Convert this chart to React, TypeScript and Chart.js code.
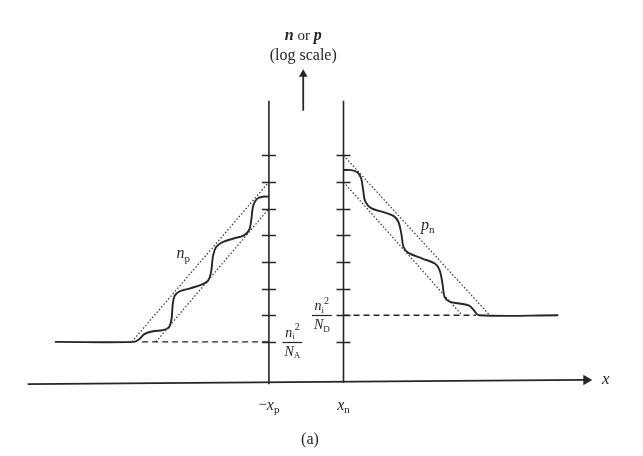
import React, { useEffect, useRef } from "react";
import { Chart, registerables } from "chart.js";
Chart.register(...registerables);

// Horizontal position: in units of x_p (depletion edges at -1 and +1)
// Vertical position: decades of n or p (log scale), level 0 = ni²/NA
const npX = [-6.74, -4.63, -4.47, -4.34, -4.11, -3.84, -3.68, -3.61, -3.58, -3.53, -3.39, -3.11, -2.79, -2.63, -2.55, -2.5, -2.42, -2.26, -1.95, -1.68, -1.53, -1.47, -1.42, -1.32, -1.16, -1.0];
const npY = [0, 0, 0.11, 0.29, 0.4, 0.44, 0.55, 0.88, 1.39, 1.72, 1.9, 2.01, 2.16, 2.3, 2.63, 3.22, 3.55, 3.73, 3.88, 3.99, 4.2, 4.61, 5.12, 5.37, 5.45, 5.45];
const pnX = [1.0, 1.21, 1.37, 1.47, 1.53, 1.58, 1.74, 2.08, 2.34, 2.47, 2.55, 2.61, 2.74, 3.13, 3.45, 3.58, 3.66, 3.71, 3.84, 4.11, 4.37, 4.5, 4.63, 6.76];
const pnY = [6.45, 6.45, 6.37, 6.15, 5.68, 5.28, 5.02, 4.87, 4.73, 4.51, 4.07, 3.56, 3.34, 3.12, 2.94, 2.68, 2.13, 1.69, 1.51, 1.44, 1.36, 1.18, 1.0, 1.0];

const tickLevels = [0, 1, 2, 3, 4, 5, 6, 7];
const edgeX = [-1, 1];
const edgeTop = 9.05;
const naLevel = 0;
const ndLevel = 1;

const xAxisX = [-7.47, 7.47];
const xAxisY = [-1.59, -1.43];
const yArrowX = [-0.08, -0.08];
const yArrowY = [8.68, 10.0];

const npDashX = [-4.4, -1];
const pnDashX = [1, 4.55];
const npUpperDotX = [-4.68, -1];
const npUpperDotY = [0, 6];
const npLowerDotX = [-4.03, -1];
const npLowerDotY = [0, 5];
const pnUpperDotX = [1, 4.92];
const pnUpperDotY = [7, 1];
const pnLowerDotX = [1, 4.18];
const pnLowerDotY = [6, 1];

// label anchors (same units)
const labelNames = ["title1", "title2", "np", "pn", "fracA", "fracD", "xp", "xn", "caption", "xlab"];
const labelX = [-0.08, -0.08, -3.3, 3.26, -0.37, 0.42, -1.0, 1.0, 0.1, 8.03];
const labelY = [11.5, 10.73, 3.31, 4.37, 0, 1, -2.39, -2.39, -3.67, -1.41];

const X_MIN = -8.05, X_MAX = 8.87, Y_MIN = -4.06, Y_MAX = 12.61;

const INK = "#262626";
const SERIF = "'Liberation Serif', 'DejaVu Serif', serif";

const pts = (xs: number[], ys: number[]) => xs.map((x, i) => ({ x, y: ys[i] }));
const line = (xs: number[], ys: number[], extra: any = {}) => ({
  data: pts(xs, ys),
  showLine: true,
  pointRadius: 0,
  borderColor: INK,
  backgroundColor: INK,
  borderWidth: 1.6,
  tension: 0,
  ...extra,
});

type Piece = { t: string; f: string; dy?: number };
function rich(ctx: CanvasRenderingContext2D, cx: number, cy: number, pieces: Piece[]) {
  const widths = pieces.map((p) => {
    ctx.font = p.f;
    return ctx.measureText(p.t).width;
  });
  const total = widths.reduce((a, b) => a + b, 0);
  let x = cx - total / 2;
  pieces.forEach((p, i) => {
    ctx.font = p.f;
    ctx.fillText(p.t, x, cy + (p.dy || 0));
    x += widths[i];
  });
  return total;
}

const it = (s: number) => `italic ${s}px ${SERIF}`;
const bi = (s: number) => `bold italic ${s}px ${SERIF}`;
const rm = (s: number) => `${s}px ${SERIF}`;

const decorPlugin = {
  id: "decor",
  afterDatasetsDraw(chart: any) {
    const ctx: CanvasRenderingContext2D = chart.ctx;
    const xs = chart.scales.x;
    const ys = chart.scales.y;
    ctx.save();
    ctx.strokeStyle = INK;
    ctx.lineWidth = 1.5;
    edgeX.forEach((ex) => {
      const px = xs.getPixelForValue(ex);
      tickLevels.forEach((lv) => {
        const py = Math.round(ys.getPixelForValue(lv)) + 0.5;
        ctx.beginPath();
        ctx.moveTo(px - 7, py);
        ctx.lineTo(px + 7, py);
        ctx.stroke();
      });
    });

    ctx.fillStyle = INK;
    ctx.textBaseline = "middle";
    const P = (name: string) => {
      const i = labelNames.indexOf(name);
      return [xs.getPixelForValue(labelX[i]), ys.getPixelForValue(labelY[i])];
    };
    let [x, y] = P("title1");
    rich(ctx, x, y, [
      { t: "n", f: bi(16) },
      { t: " or ", f: rm(15) },
      { t: "p", f: bi(16) },
    ]);
    [x, y] = P("title2");
    rich(ctx, x, y, [{ t: "(log scale)", f: rm(16) }]);
    [x, y] = P("np");
    rich(ctx, x, y, [
      { t: "n", f: it(16) },
      { t: "p", f: rm(11), dy: 5 },
    ]);
    [x, y] = P("pn");
    rich(ctx, x, y, [
      { t: "p", f: it(16) },
      { t: "n", f: rm(11), dy: 5 },
    ]);
    const frac = (cx: number, cy: number, sub: string) => {
      const wNum = rich(ctx, cx, cy - 9, [
        { t: "n", f: it(14) },
        { t: "i", f: rm(9), dy: 4 },
        { t: "2", f: rm(10), dy: -5 },
      ]);
      const wDen = rich(ctx, cx, cy + 10, [
        { t: "N", f: it(14) },
        { t: sub, f: rm(9), dy: 4 },
      ]);
      const w = Math.max(wNum, wDen) + 4;
      ctx.lineWidth = 1.2;
      ctx.beginPath();
      ctx.moveTo(cx - w / 2, Math.round(cy) + 0.5);
      ctx.lineTo(cx + w / 2, Math.round(cy) + 0.5);
      ctx.stroke();
    };
    [x, y] = P("fracA");
    frac(x, y, "A");
    [x, y] = P("fracD");
    frac(x, y, "D");
    [x, y] = P("xp");
    rich(ctx, x, y, [
      { t: "\u2212", f: rm(15) },
      { t: "x", f: it(16) },
      { t: "p", f: rm(11), dy: 5 },
    ]);
    [x, y] = P("xn");
    rich(ctx, x, y, [
      { t: "x", f: it(16) },
      { t: "n", f: rm(11), dy: 5 },
    ]);
    [x, y] = P("caption");
    rich(ctx, x, y, [{ t: "(a)", f: rm(16) }]);
    [x, y] = P("xlab");
    rich(ctx, x, y, [{ t: "x", f: it(17) }]);
    ctx.restore();
  },
};

export default function App() {
  const ref = useRef<HTMLCanvasElement>(null);
  useEffect(() => {
    if (!ref.current) return;
    const dotted = { borderWidth: 1.2, borderDash: [1.5, 2], borderColor: "#333" };
    const dashed = { borderWidth: 1.4, borderDash: [6, 4] };
    const chart = new Chart(ref.current, {
      type: "scatter",
      data: {
        datasets: [
          line(npUpperDotX, npUpperDotY, dotted),
          line(npLowerDotX, npLowerDotY, dotted),
          line(pnUpperDotX, pnUpperDotY, dotted),
          line(pnLowerDotX, pnLowerDotY, dotted),
          line(npDashX, [naLevel, naLevel], dashed),
          line(pnDashX, [ndLevel, ndLevel], dashed),
          line([edgeX[0], edgeX[0]], [xAxisY[0], edgeTop], { borderWidth: 1.6 }),
          line([edgeX[1], edgeX[1]], [xAxisY[0] + 0.05, edgeTop], { borderWidth: 1.6 }),
          line(xAxisX, xAxisY, { borderWidth: 1.8 }),
          line(yArrowX, yArrowY, { borderWidth: 1.8 }),
          {
            data: [{ x: xAxisX[1] + 0.04, y: xAxisY[1] }],
            pointStyle: "triangle",
            rotation: 90,
            pointRadius: 6,
            backgroundColor: INK,
            borderColor: INK,
            borderWidth: 0,
            showLine: false,
          },
          {
            data: [{ x: yArrowX[0], y: yArrowY[1] + 0.05 }],
            pointStyle: "triangle",
            rotation: 0,
            pointRadius: 5,
            backgroundColor: INK,
            borderColor: INK,
            borderWidth: 0,
            showLine: false,
          },
          line(npX, npY, { borderWidth: 1.9, tension: 0.35 }),
          line(pnX, pnY, { borderWidth: 1.9, tension: 0.35 }),
        ] as any,
      },
      options: {
        animation: false,
        responsive: false,
        devicePixelRatio: 1,
        layout: { padding: 0 },
        events: [],
        plugins: { legend: { display: false }, tooltip: { enabled: false } },
        scales: {
          x: { type: "linear", min: X_MIN, max: X_MAX, display: false },
          y: { type: "linear", min: Y_MIN, max: Y_MAX, display: false },
        },
      },
      plugins: [decorPlugin],
    });
    return () => chart.destroy();
  }, []);
  return (
    <div style={{ position: "absolute", left: 0, top: 0, width: 643, height: 456, background: "#fff" }}>
      <canvas ref={ref} width={643} height={456} style={{ display: "block" }} />
    </div>
  );
}
